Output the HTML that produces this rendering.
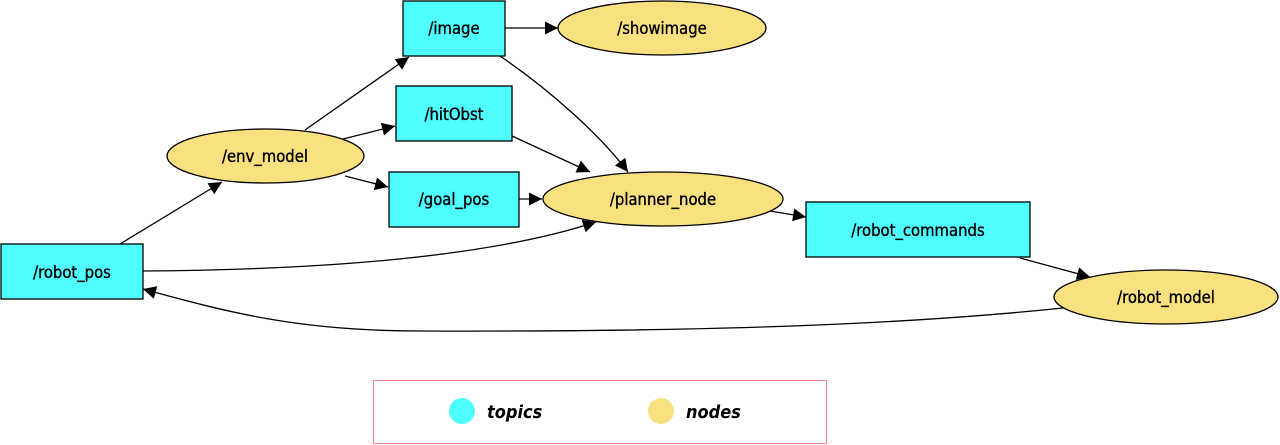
<!DOCTYPE html>
<html><head><meta charset="utf-8"><style>body{margin:0;background:#fff}svg{display:block}text{font-family:"DejaVu Sans Condensed","DejaVu Sans","Liberation Sans",sans-serif;font-size:16.5px;stroke:#000;stroke-width:0.35}</style></head><body>
<svg width="1280" height="445" viewBox="0 0 1280 445" xmlns="http://www.w3.org/2000/svg">
<defs><marker id="a" viewBox="0 0 10 10" refX="10" refY="5" markerWidth="17" markerHeight="13" markerUnits="userSpaceOnUse" orient="auto"><path d="M0,0L10,5L0,10z" fill="#000"/></marker></defs>
<g fill="none" stroke="#000" stroke-width="1.3" marker-end="url(#a)">
<path d="M120,244L222,182"/>
<path d="M305,130L409,57"/>
<path d="M343,139L395,126"/>
<path d="M345,176L388,187"/>
<path d="M505,28L558,28"/>
<path d="M500,56C550,90 600,135 628,172"/>
<path d="M512,136L590,172"/>
<path d="M519,199L542,199"/>
<path d="M143,271C300,270 480,260 596,222"/>
<path d="M770,211L806,217"/>
<path d="M1020,258L1090,277"/>
<path d="M1063,308C900,325 700,332 420,331C300,331 230,313 143,289"/>
</g>
<g stroke="#000" stroke-width="1.3">
<rect x="403" y="1" width="102" height="55" fill="#4ffefe"/>
<rect x="396" y="86" width="116" height="55" fill="#4ffefe"/>
<rect x="389" y="172" width="130" height="55" fill="#4ffefe"/>
<rect x="806" y="202" width="224" height="55" fill="#4ffefe"/>
<rect x="1" y="244" width="142" height="55" fill="#4ffefe"/>
<ellipse cx="662" cy="28" rx="104" ry="27" fill="#f9e17f"/>
<ellipse cx="265.5" cy="156" rx="98.5" ry="27" fill="#f9e17f"/>
<ellipse cx="663" cy="199" rx="120" ry="27" fill="#f9e17f"/>
<ellipse cx="1166" cy="297" rx="112" ry="27" fill="#f9e17f"/>
</g>
<g text-anchor="middle">
<text x="454" y="34">/image</text>
<text x="662" y="34">/showimage</text>
<text x="454" y="120">/hitObst</text>
<text x="265" y="162">/env_model</text>
<text x="454" y="205">/goal_pos</text>
<text x="663" y="205">/planner_node</text>
<text x="918" y="236">/robot_commands</text>
<text x="72" y="278">/robot_pos</text>
<text x="1166" y="303">/robot_model</text>
</g>
<rect x="373.5" y="380.5" width="453" height="63" fill="none" stroke="#f88" stroke-width="1"/>
<circle cx="462" cy="411" r="13" fill="#4ffefe"/>
<circle cx="661" cy="411" r="13" fill="#f9e17f"/>
<text x="487" y="418" font-weight="bold" font-style="italic" style="font-size:18px;stroke-width:0">topics</text>
<text x="686" y="418" font-weight="bold" font-style="italic" style="font-size:18px;stroke-width:0">nodes</text>
</svg>
</body></html>
